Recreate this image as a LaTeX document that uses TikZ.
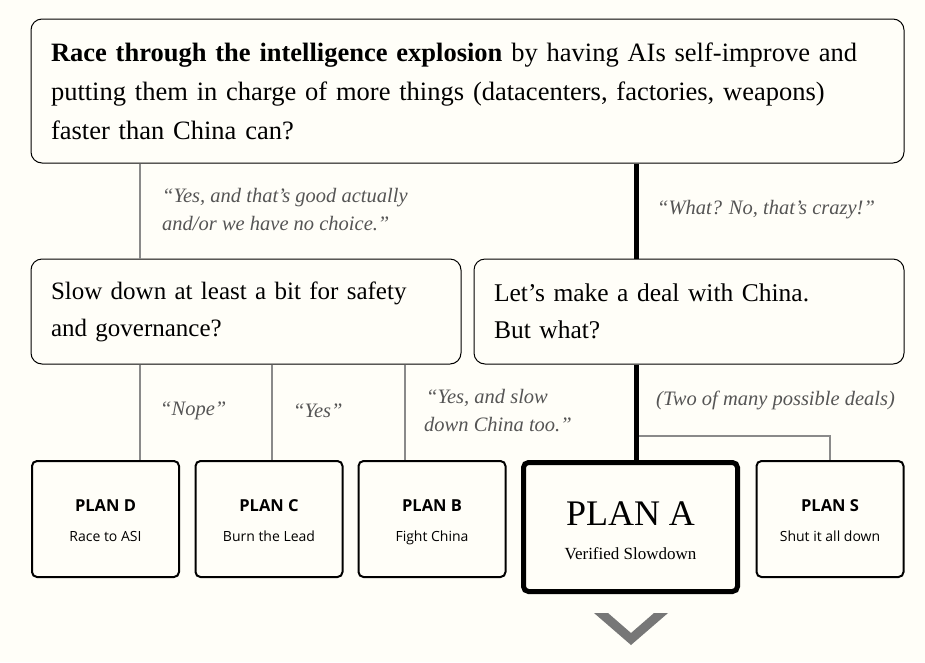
\documentclass[tikz,border=0pt]{standalone}
\usepackage{fontspec}
\setmainfont{Liberation Serif}
\newfontfamily\planfont{Open Sans}
\definecolor{paper}{RGB}{255,254,248}
\definecolor{quoteGray}{RGB}{85,85,85}
\definecolor{lineGray}{RGB}{138,138,138}
\definecolor{chevGray}{RGB}{119,119,119}

\begin{document}
\begin{tikzpicture}[x = 1pt, y = -1pt]
	\tikzstyle{questionStyle} = [draw, line width = 1pt, rounded corners = 11pt, fill = paper, inner xsep = 20pt, inner ysep = 0pt, align = left]
	\tikzstyle{planStyle} = [draw, line width = 2pt, rounded corners = 5pt, fill = paper, minimum width = 147pt, minimum height = 116pt, inner sep = 0pt, align = center, font = \planfont]
	\tikzstyle{quoteStyle} = [text = quoteGray, font = \fontsize{20.5}{28}\selectfont\itshape, align = left, anchor = west, inner sep = 0pt]
	\tikzstyle{thinEdge} = [draw = lineGray, line width = 2.5pt]
	\tikzstyle{thickEdge} = [draw = black, line width = 5pt]
	\fill[paper] (0,0) rectangle (925,662);
	\useasboundingbox (0,0) rectangle (925,662);
	\coordinate (xD) at (140,0);
	\coordinate (xC) at (272,0);
	\coordinate (xB) at (405,0);
	\coordinate (xA) at (636,0);
	\coordinate (fork) at (636,436);
	\node[questionStyle, text width = 833pt, minimum height = 144pt, font = \fontsize{26.5}{39}\selectfont] (top) at (467.5,91) {\textbf{Race through the intelligence explosion} by having AIs self-improve and\\putting them in charge of more things (datacenters, factories, weapons)\\faster than China can?};
	\node[questionStyle, text width = 390pt, minimum height = 105pt, font = \fontsize{25}{37}\selectfont] (slow) at (246,311.5) {Slow down at least a bit for safety\\and governance?};
	\node[questionStyle, text width = 390pt, minimum height = 105pt, font = \fontsize{25.5}{37}\selectfont] (deal) at (689,311.5) {Let’s make a deal with China.\\But what?};
	\node[planStyle] (pD) at (105.5,519) {{\bfseries\fontsize{16.5}{20}\selectfont\rule{0pt}{20pt}PLAN D\strut}\\[12pt]{\fontsize{14}{16}\selectfont Race to ASI\strut}};
	\node[planStyle] (pC) at (269,519) {{\bfseries\fontsize{16.5}{20}\selectfont\rule{0pt}{20pt}PLAN C\strut}\\[12pt]{\fontsize{14}{16}\selectfont Burn the Lead\strut}};
	\node[planStyle] (pB) at (432,519) {{\bfseries\fontsize{16.5}{20}\selectfont\rule{0pt}{20pt}PLAN B\strut}\\[12pt]{\fontsize{14}{16}\selectfont Fight China\strut}};
	\node[planStyle] (pS) at (830,519) {{\bfseries\fontsize{16.5}{20}\selectfont\rule{0pt}{20pt}PLAN S\strut}\\[12pt]{\fontsize{14}{16}\selectfont Shut it all down\strut}};
	\node[planStyle, line width = 5pt, minimum width = 214pt, minimum height = 129pt, font = \rmfamily] (pA) at (630.5,527) {{\fontsize{36}{40}\selectfont\rule{0pt}{36pt}PLAN A\strut}\\[7pt]{\fontsize{17}{20}\selectfont Verified Slowdown\strut}};
	\draw[thinEdge] (top.south -| xD) -- (slow.north -| xD);
	\draw[thickEdge] (top.south -| xA) -- (deal.north -| xA);
	\draw[thinEdge] (slow.south -| xD) -- (pD.north -| xD);
	\draw[thinEdge] (slow.south -| xC) -- (pC.north -| xC);
	\draw[thinEdge] (slow.south -| xB) -- (pB.north -| xB);
	\draw[thinEdge] (fork) -| (pS.north);
	\draw[thickEdge] (deal.south -| xA) -- (pA.north -| xA);
	\node[quoteStyle] (q0) at (162,210) {“Yes, and that’s good actually\\and/or we have no choice.”};
	\node[quoteStyle] (q1) at (657,210) {“What? No, that’s crazy!”};
	\node[quoteStyle] (q2) at (160,411) {“Nope”};
	\node[quoteStyle] (q3) at (293,411) {“Yes”};
	\node[quoteStyle] (q4) at (424,410.5) {\hspace*{2pt}“Yes, and slow\\down China too.”};
	\node[quoteStyle] (q5) at (656,400) {(Two of many possible deals)};
	\fill[chevGray] (594,613) -- (608,613) -- (631,633) -- (654,613) -- (668,613) -- (631,645) -- cycle;
\end{tikzpicture}
\end{document}
